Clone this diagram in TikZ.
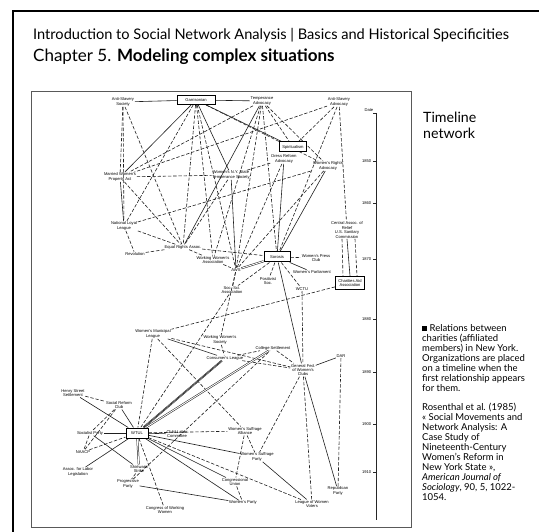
\documentclass[tikz,border=0pt]{standalone}
\usepackage{fontspec}
\setmainfont{Lato}
\newfontfamily\netfont{Liberation Sans}
\pgfdeclarelayer{edgelayer}
\pgfsetlayers{edgelayer,main}
\begin{document}
\begin{tikzpicture}[x=1pt,y=-1pt,
  lab/.style={font=\netfont\fontsize{4.1}{4.4}\selectfont, align=center, inner sep=0.6pt},
  boxn/.style={lab, draw=black, line width=1pt, inner sep=0pt, fill=white},
  sl/.style={draw=black!88, line width=0.6pt},
  dl/.style={sl, dash pattern=on 3.4pt off 1.8pt},
  dbl/.style={draw=black!88, line width=0.5pt, double=white, double distance=0.9pt},
]
\useasboundingbox (0,0) rectangle (539,532);
\begin{pgfonlayer}{edgelayer}
\fill[white] (0,0) rectangle (539,532);
\end{pgfonlayer}
% frames
\draw[line width=2pt] (13,532) -- (13,11) -- (539,11);
\draw[black!65, line width=0.8pt] (31,91) rectangle (411,527);
% header
\node[anchor=base west, inner sep=0, font=\fontsize{14.6}{16}\selectfont] (h1) at (33,40)
  {Introduction to Social Network Analysis | Basics and Historical Specificities};
\node[anchor=base west, inner sep=0, font=\fontsize{17}{19}\selectfont] (h2) at (33,62)
  {Chapter 5. \textbf{Modeling complex situations}};
\node[anchor=north west, inner sep=0, align=left, font=\fontsize{14.2}{15.5}\selectfont] (tl) at (423,112)
  {Timeline\\network};
\node[anchor=north west, inner sep=0, align=left, font=\fontsize{9.5}{10}\selectfont] (cap) at (422,324)
  {\rule{5pt}{5pt} Relations between\\
   charities (affiliated\\
   members) in New York.\\
   Organizations are placed\\
   on a timeline when the\\
   first relationship appears\\
   for them.\\[9pt]
   Rosenthal et al. (1985)\\
   « Social Movements and\\
   Network Analysis: A\\
   Case Study of\\
   Nineteenth-Century\\
   Women's Reform in\\
   New York State »,\\
   \textit{American Journal of}\\
   \textit{Sociology}, 90, 5, 1022-\\
   1054.};
% timeline axis
\coordinate (axtop) at (376,113);
\coordinate (axbot) at (376,520);
\draw[black!85, line width=0.6pt] (axtop) -- (axbot);
\draw[black!85, line width=0.6pt] (axtop) -- ++(-3,0);
\node[lab, anchor=south east] (datel) at (374,112) {Date};
\foreach \yy/\yr in {161/1850, 203/1860, 259/1870, 319/1880, 372/1890, 424/1900, 472/1910}{
  \draw[black!85, line width=0.6pt] (376,\yy) -- (373,\yy);
  \node[lab, anchor=east] at (372,\yy) {\yr};
}
% nodes
\node[boxn, minimum width=38pt, minimum height=9pt] (G) at (196,100) {Garrisonian};
\node[lab] (ASS) at (123,102) {Anti-Slavery\\Society};
\node[lab] (TA) at (262,101) {Temperance\\Advocacy};
\node[lab] (ASA) at (339,102) {Anti-Slavery\\Advocacy};
\node[boxn, minimum width=27pt, minimum height=10pt] (SP) at (293,147) {Spiritualism};
\node[lab] (DR) at (284,159) {Dress Reform\\Advocacy};
\node[lab] (WRA) at (328,166) {Women's Rights\\Advocacy};
\node[lab] (MW) at (120,177) {Married Women's\\Property Act};
\node[lab] (WNY) at (231,175) {Women's N.Y. State\\Temperance Society};
\node[lab] (NLL) at (124,226) {National Loyal\\League};
\node[lab] (ERA) at (183,247) {Equal Rights Assoc.};
\node[lab] (REV) at (135,254) {Revolution};
\node[lab] (CAR) at (347,230) {Central Assoc. of\\Relief\\U.S. Sanitary\\Commission};
\node[lab] (WWA) at (213,260) {Working Women's\\Association};
\node[lab] (AWS) at (236,270) {AWS};
\node[boxn, minimum width=26pt, minimum height=10pt] (SOR) at (277,257) {Sorosis};
\node[lab] (WPC) at (316,258) {Women's Press\\Club};
\node[lab] (WP) at (312,272) {Women's Parliament};
\node[lab] (PS) at (268,281) {Positivist\\Soc.};
\node[lab] (SSA) at (232,290) {Soc. Sci.\\Association};
\node[lab] (WCTU) at (302,289) {WCTU};
\node[boxn, minimum width=29pt, minimum height=13pt] (CAA) at (350,283) {Charities Aid\\Association};
\node[lab] (WML) at (153,334) {Women's Municipal\\League};
\node[lab] (WWS) at (220,340) {Working Women's\\Society};
\node[lab] (CS) at (273,348) {College Settlement};
\node[lab] (CL) at (225,358) {Consumer's League};
\node[lab] (GF) at (303,370) {General Fed.\\of Women's\\Clubs};
\node[lab] (DAR) at (341,356) {DAR};
\node[lab] (HSS) at (73,393) {Henry Street\\Settlement};
\node[lab] (SRC) at (119,405) {Social Reform\\Club};
\node[lab] (SOCP) at (90,433) {Socialist Party};
\node[boxn, minimum width=22pt, minimum height=10pt] (WTUL) at (137,433) {WTUL};
\node[lab] (CLC) at (177,434) {Child Labor\\Committee};
\node[lab] (NAACP) at (83,452) {NAACP};
\node[lab] (SWS) at (139,469) {Shirtwaist\\Strike};
\node[lab] (ALL) at (78,472) {Assoc. for Labor\\Legislation};
\node[lab] (PP) at (128,484) {Progressive\\Party};
\node[lab] (CWW) at (165,510) {Congress of Working\\Women};
\node[lab] (WSA) at (245,431) {Women's Suffrage\\Alliance};
\node[lab] (WSP) at (257,457) {Women's Suffrage\\Party};
\node[lab] (CU) at (235,482) {Congressional\\Union};
\node[lab] (WPTY) at (243,503) {Women's Party};
\node[lab] (LWV) at (312,504) {League of Women\\Voters};
\node[lab] (REP) at (338,491) {Republican\\Party};
\begin{pgfonlayer}{edgelayer}
% solid ties
\foreach \a/\b in {ASS/G, G/TA, G/MW, G/WNY, G/SP, TA/ERA, WRA/SOR, MW/NLL, SOR/GF, SOR/WP,
  WNY/AWS, DR/SOR, WML/CL, HSS/WTUL, SRC/WTUL, SOCP/WTUL, SOCP/SWS, WTUL/ALL, WTUL/CLC,
  WTUL/WSP, WTUL/CU, WTUL/WPTY, PP/WPTY, GF/REP, WSP/LWV, GF/DAR}
  \draw[sl] (\a) -- (\b);
% dashed ties
\foreach \a/\b in {G/NLL, G/ERA, G/WWA, G/WRA, G/AWS, ASS/MW, ASS/NLL, ASS/ERA, TA/MW, TA/SP,
  TA/WRA, TA/SOR, TA/AWS, TA/WWA, ASA/SP, ASA/CAR, ASA/MW, ASA/SOR, WNY/DR, MW/WNY, MW/ERA,
  NLL/REV, ERA/REV, NLL/ERA, NLL/WRA, WNY/ERA, DR/AWS, WRA/AWS, ERA/SOR, ERA/WWA, WWA/AWS,
  SOR/WPC, SOR/PS, SOR/WCTU, SOR/SSA, AWS/SSA, WCTU/GF, CAA/WML, SSA/WTUL, AWS/WWS,
  WML/WTUL, WML/GF, CL/GF, WML/WSA, WWS/CL, CL/CS, CS/GF, DAR/REP, GF/LWV, GF/WSP,
  WSA/WSP, WSA/CU, WTUL/LWV, HSS/SRC, SRC/SOCP, SRC/NAACP, SOCP/NAACP, NAACP/WTUL,
  SWS/PP, WTUL/CWW, PP/CS, CU/WPTY, WTUL/WSA}
  \draw[dl] (\a) -- (\b);
% multiple ties
\draw[dbl] (AWS) -- (SOR);
\draw[dbl] (WTUL) -- (CL);
\draw[sl] (WTUL) -- (CL);
\draw[dbl] (WTUL) -- (CS);
\draw[dbl] (WTUL) -- (SWS);
\draw[dl] ([xshift=-5pt]CAR.south) -- ([xshift=-7pt]CAA.north);
\draw[sl] ([xshift=0pt]CAR.south) -- ([xshift=0pt]CAA.north);
\draw[dl] ([xshift=8pt]CAR.south) -- ([xshift=7pt]CAA.north);
\end{pgfonlayer}
\end{tikzpicture}
\end{document}
